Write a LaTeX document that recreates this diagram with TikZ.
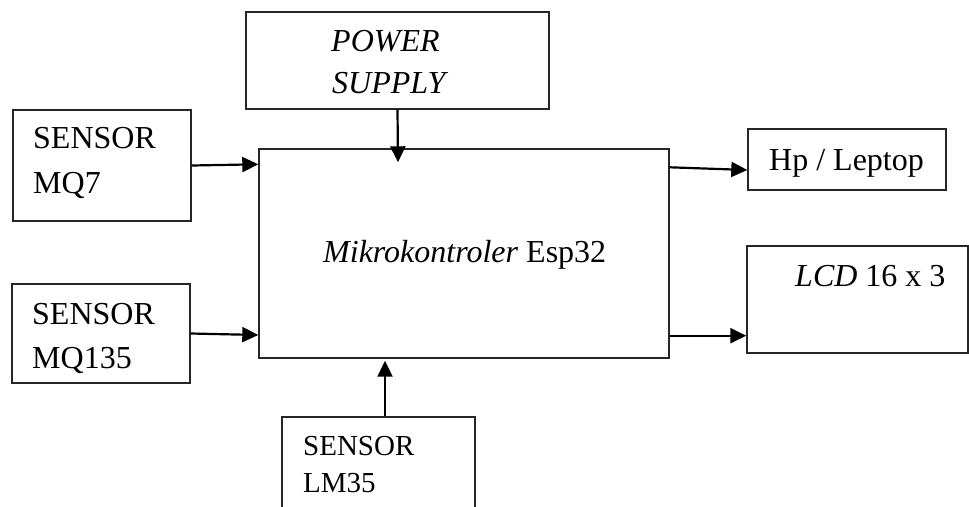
\documentclass[tikz,border=0pt]{standalone}
\usepackage{fontspec}
\setmainfont{Liberation Serif}
\usetikzlibrary{arrows.meta}
\begin{document}
\begin{tikzpicture}[x=1pt,y=-1pt,
  blk/.style={draw=black!85,line width=1.4pt,inner sep=0pt,fill=none},
  lbl/.style={anchor=base west,inner sep=0pt,font=\fontsize{32}{38}\selectfont},
  lbls/.style={anchor=base west,inner sep=0pt,font=\fontsize{29}{35}\selectfont},
  arr/.style={line width=2.2pt,-{Triangle[length=16pt,width=15pt]}}]
\clip (0,0) rectangle (969,506);
\fill[white] (0,0) rectangle (969,506);
% boxes
\node[blk,minimum width=178pt,minimum height=111pt] (mq7) at (102,165.5) {};
\node[blk,minimum width=303pt,minimum height=97pt] (power) at (397.5,60.5) {};
\node[blk,minimum width=410pt,minimum height=209pt] (main) at (464,253.5) {};
\node[blk,minimum width=178pt,minimum height=99pt] (mq135) at (101,333.5) {};
\node[blk,minimum width=193pt,minimum height=113pt] (lm35) at (378.5,473.5) {};
\node[blk,minimum width=198pt,minimum height=61pt] (hp) at (847,159.5) {};
\node[blk,minimum width=221pt,minimum height=107pt] (lcd) at (857.5,299.5) {};
% texts
\node[lbl] (t1) at (33,148) {SENSOR};
\node[lbl] (t2) at (33,193) {MQ7};
\node[lbl] (t3) at (331,51) {\itshape POWER};
\node[lbl] (t4) at (332,93) {\itshape SUPPLY};
\node[lbl] (t5) at (323,262) {\textit{Mikrokontroler} Esp32};
\node[lbl] (t6) at (32,324) {SENSOR};
\node[lbl] (t7) at (32,368) {MQ135};
\node[lbls] (t8) at (303,455) {SENSOR};
\node[lbls] (t9) at (303,492) {LM35};
\node[lbl] (t10) at (769,170) {Hp / Leptop};
\node[lbl] (t11) at (795,286) {\textit{LCD} 16 x 3};
% connectors
\draw[arr] (power.south) -- ([xshift=0.5pt,yshift=-14pt]power.south |- main.north);
\draw[arr] (mq7.east) -- ([yshift=-16pt]main.north west);
\draw[arr] (mq135.east) -- ([yshift=-1.5pt]mq135.east -| main.west);
\draw[arr] ([xshift=6.5pt]lm35.north) -- ([xshift=6.5pt,yshift=-2pt]lm35.north |- main.south);
\draw[arr] ([yshift=-19pt]main.north east) -- ([yshift=-10.5pt]hp.west);
\draw[arr] ([yshift=23pt]main.south east) -- ([yshift=18pt]lcd.south west);
\end{tikzpicture}
\end{document}
